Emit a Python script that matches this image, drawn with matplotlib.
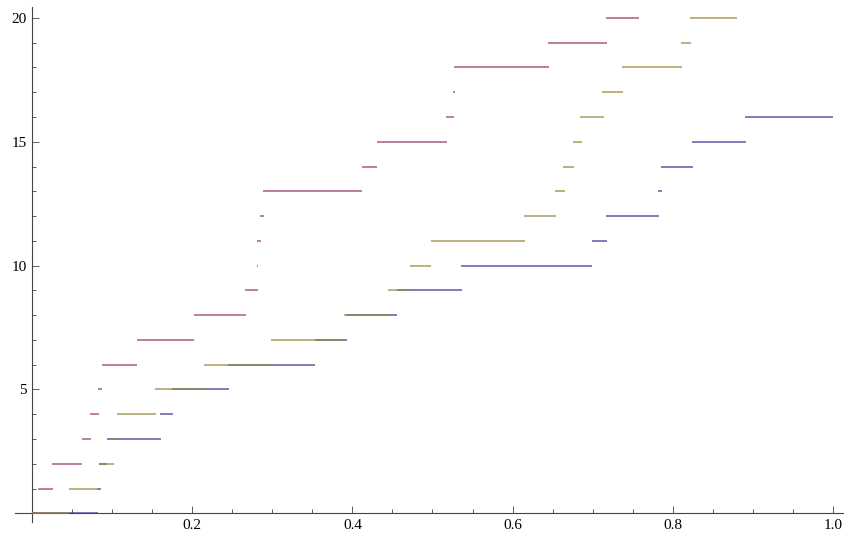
import numpy as np
import matplotlib.pyplot as plt
from matplotlib.ticker import MultipleLocator, FixedLocator

# step segments: level, start x, end x
levels_blue = list(range(0, 17))
start_blue = [0, 0.0811, 0.0836, 0.0936, 0.1598, 0.1748, 0.2447, 0.3533, 0.3920,
              0.4557, 0.5356, 0.6991, 0.7166, 0.7815, 0.7853, 0.8240, 0.8901]
end_blue = [0.0824, 0.0861, 0.0936, 0.1610, 0.1760, 0.2459, 0.3533, 0.3933, 0.4557,
            0.5368, 0.6991, 0.7179, 0.7828, 0.7865, 0.8252, 0.8914, 1.0]

levels_purple = list(range(0, 21))
start_purple = [0, 0.0075, 0.0250, 0.0624, 0.0724, 0.0824, 0.0874, 0.1311, 0.2022,
                0.2659, 0.2809, 0.2809, 0.2846, 0.2884, 0.4120, 0.4307, 0.5169,
                0.5256, 0.5268, 0.6442, 0.7166]
end_purple = [0.0075, 0.0262, 0.0624, 0.0737, 0.0836, 0.0874, 0.1311, 0.2022, 0.2672,
              0.2821, 0.2821, 0.2859, 0.2896, 0.4120, 0.4307, 0.5181, 0.5268,
              0.5281, 0.6454, 0.7179, 0.7578]

levels_olive = list(range(0, 21))
start_olive = [0, 0.0462, 0.0836, 0.1011, 0.1061, 0.1536, 0.2147, 0.2984, 0.3895,
               0.4444, 0.4719, 0.4981, 0.6142, 0.6529, 0.6629, 0.6754, 0.6841,
               0.7116, 0.7366, 0.8102, 0.8215]
end_olive = [0.0462, 0.0824, 0.1024, 0.1074, 0.1548, 0.2160, 0.2996, 0.3920, 0.4457,
             0.4732, 0.4981, 0.6155, 0.6542, 0.6654, 0.6767, 0.6866, 0.7141,
             0.7378, 0.8115, 0.8227, 0.8801]

blue = (0.24, 0.24, 0.6)
purple = (0.6, 0.24, 0.443)
olive = (0.6, 0.547, 0.24)

plt.rcParams['font.family'] = ['Liberation Serif', 'DejaVu Serif']

fig = plt.figure(figsize=(8.45, 5.35), dpi=100)
ax = fig.add_axes([0, 0, 1, 1])

ax.hlines(levels_blue, start_blue, end_blue, colors=[blue], lw=1.1, alpha=0.85)
ax.hlines(levels_purple, start_purple, end_purple, colors=[purple], lw=1.1, alpha=0.85)
ax.hlines(levels_olive, start_olive, end_olive, colors=[olive], lw=1.1, alpha=0.85)

ax.set_xlim(-32 / 801, 813 / 801)
ax.set_ylim(-21.7 / 24.77, 513.3 / 24.77)

for s in ['top', 'right']:
    ax.spines[s].set_visible(False)
ax.spines['left'].set_position(('data', 0))
ax.spines['bottom'].set_position(('data', 0))
ax.spines['bottom'].set_bounds(-0.021, 1.02)
ax.spines['left'].set_bounds(-0.36, 20.45)
for s in ['left', 'bottom']:
    ax.spines[s].set_color('#444444')
    ax.spines[s].set_linewidth(0.8)
    ax.spines[s].set_zorder(0.5)

ax.xaxis.set_major_locator(FixedLocator([0.2, 0.4, 0.6, 0.8, 1.0]))
ax.xaxis.set_minor_locator(MultipleLocator(0.05))
ax.yaxis.set_major_locator(FixedLocator([5, 10, 15, 20]))
ax.yaxis.set_minor_locator(MultipleLocator(1))
ax.set_xticklabels(['0.2', '0.4', '0.6', '0.8', '1.0'])
ax.set_yticklabels(['5', '10', '15', '20'])

ax.tick_params(which='both', direction='in', color='#444444', width=0.6,
               labelsize=11, pad=4)
ax.tick_params(which='major', length=5)
ax.tick_params(which='minor', length=3)

fig.savefig('out.png', dpi=100)
